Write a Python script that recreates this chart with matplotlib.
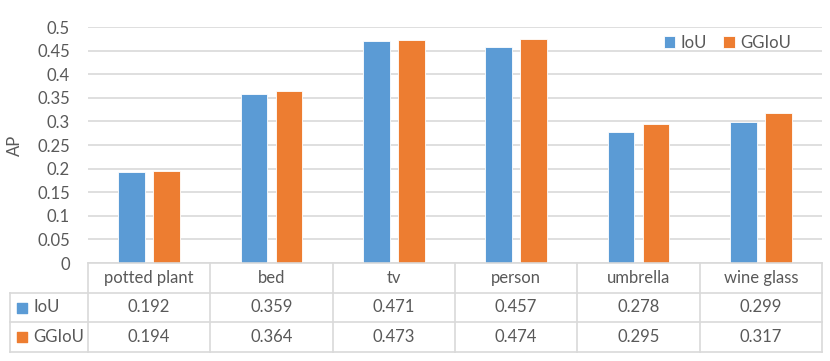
import matplotlib.pyplot as plt
import numpy as np

plt.rcParams['font.family'] = ['Lato', 'DejaVu Sans']

categories = ['potted plant', 'bed', 'tv', 'person', 'umbrella', 'wine glass']
series_names = ['IoU', 'GGIoU']
iou = [0.192, 0.359, 0.471, 0.457, 0.278, 0.299]
ggiou = [0.194, 0.364, 0.473, 0.474, 0.295, 0.317]
yticks = [0, 0.05, 0.1, 0.15, 0.2, 0.25, 0.3, 0.35, 0.4, 0.45, 0.5]

colors = ['#5B9BD5', '#ED7D31']
grid_c = '#D9D9D9'
text_c = '#595959'
W, H = 830, 361

fig = plt.figure(figsize=(W / 100, H / 100), dpi=100)

# main bar axes
ax = fig.add_axes([88 / W, (H - 263) / H, 734 / W, (263 - 27) / H])
x = np.arange(len(categories))
bw = 0.22
off = 0.143
for i, vals in enumerate([iou, ggiou]):
    ax.bar(x + (i * 2 - 1) * off, vals, bw, color=colors[i],
           edgecolor='white', linewidth=0.6, label=series_names[i], zorder=3)
ax.set_xlim(-0.5, len(categories) - 0.5)
ax.set_ylim(0, 0.5)
ax.set_yticks(yticks)
ax.set_yticklabels([f'{t:g}' for t in yticks])
ax.tick_params(axis='y', length=0, pad=13, labelsize=12, labelcolor=text_c)
ax.set_xticks([])
ax.grid(axis='y', color=grid_c, linewidth=1.2, zorder=0)
for s in ax.spines.values():
    s.set_visible(False)
leg = ax.legend(loc='upper right', bbox_to_anchor=(0.978, 1.03), ncol=2, frameon=False,
                fontsize=12, handlelength=0.7, handleheight=0.7, handletextpad=0.3,
                columnspacing=1.0, labelcolor=text_c)
fig.text(15 / W, 1 - 145 / H, 'AP', rotation=90, ha='center', va='center',
         fontsize=12, color=text_c)

# data table
tax = fig.add_axes([10 / W, (H - 352) / H, 812 / W, 89 / H])
left = -0.5 - 78 / 122.33
tax.set_xlim(left, len(categories) - 0.5)
tax.set_ylim(3, 0)
tax.axis('off')
lw = 1.2
# horizontal lines
tax.plot([-0.5, len(categories) - 0.5], [0, 0], color=grid_c, lw=lw, clip_on=False)
for yy in [1, 2, 3]:
    tax.plot([left, len(categories) - 0.5], [yy, yy], color=grid_c, lw=lw, clip_on=False)
# vertical lines
tax.plot([left, left], [1, 3], color=grid_c, lw=lw, clip_on=False)
for xx in np.arange(len(categories) + 1) - 0.5:
    tax.plot([xx, xx], [0, 3], color=grid_c, lw=lw, clip_on=False)
for j, c in enumerate(categories):
    tax.text(j, 0.5, c, ha='center', va='center', fontsize=12, color=text_c)
for i, vals in enumerate([iou, ggiou]):
    for j, v in enumerate(vals):
        tax.text(j, 1.5 + i, f'{v:.3f}', ha='center', va='center', fontsize=12, color=text_c)
    tax.scatter([left + 0.1], [1.5 + i], marker='s', s=60, color=colors[i], clip_on=False)
    tax.text(left + 0.19, 1.5 + i, series_names[i], ha='left', va='center',
             fontsize=12, color=text_c)

fig.savefig('out.png', dpi=100)
